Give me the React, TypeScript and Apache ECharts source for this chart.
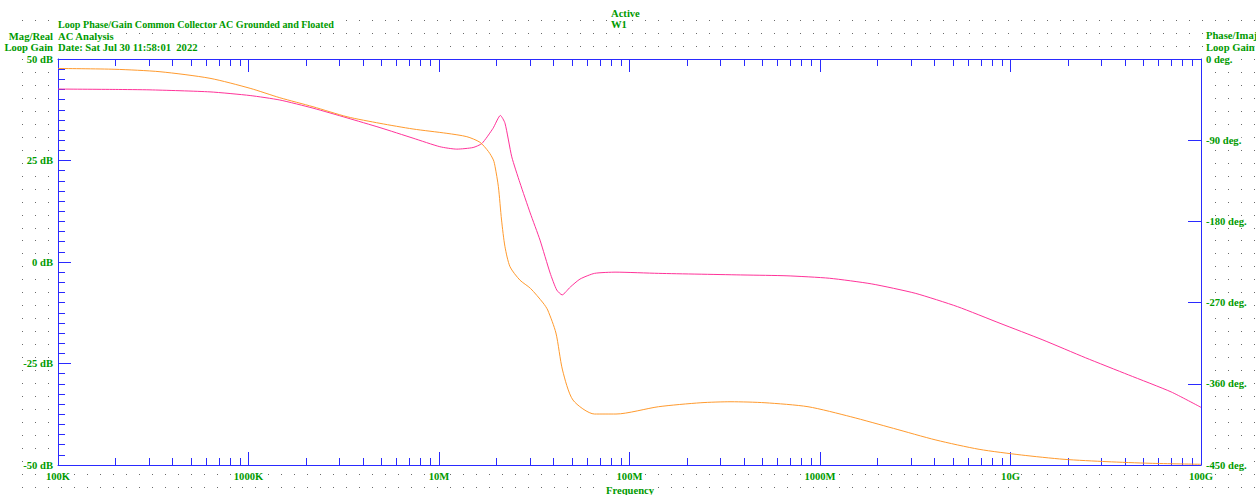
import React, { useEffect, useRef } from "react";
import * as echarts from "echarts";

// ---- data ----
const freqTickLabels = ["100K", "1000K", "10M", "100M", "1000M", "10G", "100G"];
const gainTickLabels = ["-50 dB", "-25 dB", "0 dB", "25 dB", "50 dB"];
const phaseTickLabels = ["-450 deg.", "-360 deg.", "-270 deg.", "-180 deg.", "-90 deg.", "0 deg."];
const minorMultipliers = [2, 3, 4, 5, 6, 7, 8, 9];

const gainFreq = [
  1.0e5, 2.0e5, 3.04e5, 6.28e5, 1.02e6, 1.46e6, 2.18e6, 3.29e6, 4.9e6, 7.31e6,
  1.01e7, 1.24e7, 1.51e7, 1.68e7, 1.92e7, 2.1e7, 2.22e7, 2.41e7, 2.66e7, 3.01e7,
  3.39e7, 3.83e7, 4.15e7, 4.43e7, 4.88e7, 5.5e7, 6.55e7, 8.49e7, 1.42e8, 3.99e8,
  6.71e8, 1.12e9, 1.87e9, 3.16e9, 5.27e9, 8.81e9, 1.48e10, 2.48e10, 4.16e10, 6.97e10, 1.0e11,
];
const gainDb = [
  42.6, 42.5, 42.4, 41.9, 41.0, 39.9, 37.9, 35.5, 33.1, 30.5,
  28.4, 27.8, 28.2, 29.2, 32.9, 36.1, 34.2, 25.9, 19.5, 12.1,
  5.4, -2.7, -6.9, -8.1, -6.2, -4.2, -2.8, -2.5, -2.8, -3.2,
  -3.4, -4.0, -5.4, -7.7, -11.0, -15.1, -19.2, -23.6, -27.8, -32.0, -35.8,
];

const phaseFreq = [
  1.0e5, 1.99e5, 3.43e5, 6.28e5, 1.02e6, 1.46e6, 2.18e6, 3.29e6, 4.9e6, 7.31e6,
  1.1e7, 1.4e7, 1.64e7, 1.82e7, 1.93e7, 1.97e7, 2.05e7, 2.13e7, 2.22e7, 2.36e7,
  2.66e7, 3.02e7, 3.52e7, 3.72e7, 4.11e7, 4.45e7, 5.05e7, 6.55e7, 8.49e7, 1.42e8,
  2.37e8, 3.41e8, 5.14e8, 8.65e8, 1.45e9, 2.43e9, 4.06e9, 6.84e9, 1.14e10, 1.91e10,
  3.21e10, 5.4e10, 1.0e11,
];
const phaseDeg = [
  -10.5, -11.4, -14.1, -21.4, -32.5, -42.9, -52.9, -64.0, -71.3, -77.6,
  -82.4, -86.1, -92.3, -102.7, -111.9, -119.4, -141.5, -178.5, -208.1, -230.3,
  -245.1, -254.2, -270.4, -278.2, -303.7, -344.7, -378.0, -393.5, -393.5, -385.4,
  -381.0, -379.9, -381.0, -385.4, -396.5, -409.4, -422.3, -432.6, -438.9, -443.7,
  -446.3, -448.1, -449.2,
];

const headerTitle = "Loop Phase/Gain Common Collector AC Grounded and Floated";
const headerAnalysis = "AC Analysis";
const headerDate = "Date: Sat Jul 30 11:58:01  2022";

// ---- style ----
const GREEN = "#009a00";
const BLUE = "#2a2aff";
const PINK = "#ff3399";
const ORANGE = "#ff9a2e";
const FAMILY = "'Liberation Serif', 'Times New Roman', serif";
const fontOf = (size: number) => `bold ${size}px ${FAMILY}`;

const W = 1256;
const H = 495;
const PL = 58, PT = 59, PR = 1201, PB = 465;

function buildDots() {
  const children: any[] = [];
  const step = 12.97;
  for (let i = 0; ; i++) {
    const x = Math.round(22 + i * step);
    if (x >= W) break;
    for (let j = 0; ; j++) {
      const y = Math.round(20 + j * step);
      if (y >= H) break;
      if (x >= PL - 1 && x <= PR + 1 && y >= PT - 1 && y <= PB + 1) continue;
      children.push({
        type: "rect",
        shape: { x, y, width: 1, height: 1 },
        style: { fill: "#6a6a6a" },
        silent: true,
      });
    }
  }
  return { type: "group", z: -10, silent: true, children };
}

function txt(text: string, x: number, y: number, align: string = "left", size: number = 10.6) {
  return {
    type: "text",
    x,
    y,
    z: 20,
    silent: true,
    style: {
      text,
      fill: GREEN,
      font: fontOf(size),
      align,
      verticalAlign: "middle",
      backgroundColor: "#fff",
    },
  };
}

export default function App() {
  const ref = useRef<HTMLDivElement>(null);

  useEffect(() => {
    if (!ref.current) return;
    const chart = echarts.init(ref.current, undefined, { renderer: "svg", width: W, height: H });

    const decades = freqTickLabels.map((_, i) => 5 + i);
    const minorVals: number[] = [];
    decades.slice(0, -1).forEach((d) => minorMultipliers.forEach((m) => minorVals.push(d + Math.log10(m))));

    const labelStyle = {
      color: GREEN,
      fontFamily: FAMILY,
      fontWeight: "bold" as const,
      fontSize: 10.6,
      backgroundColor: "#fff",
    };

    const xBase = {
      type: "value",
      min: 5,
      max: 11,
      interval: 1,
      gridIndex: 0,
      splitLine: { show: false },
    };

    const option: any = {
      animation: false,
      backgroundColor: "#fff",
      grid: {
        left: PL,
        top: PT,
        right: W - PR,
        bottom: H - PB,
        show: true,
        backgroundColor: "#fff",
        borderWidth: 0,
        containLabel: false,
      },
      xAxis: [
        {
          ...xBase,
          position: "bottom",
          axisLine: { show: true, onZero: false, lineStyle: { color: BLUE, width: 1 } },
          axisTick: { show: true, inside: true, length: 13, lineStyle: { color: BLUE } },
          axisLabel: {
            ...labelStyle,
            margin: 6,
            showMinLabel: true,
            showMaxLabel: true,
            formatter: (v: number) => freqTickLabels[Math.round(v) - 5] ?? "",
          },
        },
        {
          ...xBase,
          position: "bottom",
          axisLine: { show: false, onZero: false },
          axisTick: { show: true, inside: true, length: 7, customValues: minorVals, lineStyle: { color: BLUE } },
          axisLabel: { show: false },
        },
        {
          ...xBase,
          position: "top",
          axisLine: { show: true, onZero: false, lineStyle: { color: BLUE, width: 1 } },
          axisTick: { show: true, inside: true, length: 13, lineStyle: { color: BLUE } },
          axisLabel: { show: false },
        },
        {
          ...xBase,
          position: "top",
          axisLine: { show: false, onZero: false },
          axisTick: { show: true, inside: true, length: 7, customValues: minorVals, lineStyle: { color: BLUE } },
          axisLabel: { show: false },
        },
      ],
      yAxis: [
        {
          type: "value",
          position: "left",
          min: -50,
          max: 50,
          interval: 25,
          splitLine: { show: false },
          axisLine: { show: true, onZero: false, lineStyle: { color: BLUE, width: 1 } },
          axisTick: { show: true, inside: true, length: 13, lineStyle: { color: BLUE } },
          minorTick: { show: true, splitNumber: 10, length: 7, lineStyle: { color: BLUE } },
          minorSplitLine: { show: false },
          axisLabel: {
            ...labelStyle,
            margin: 5,
            showMinLabel: true,
            showMaxLabel: true,
            formatter: (v: number) => gainTickLabels[Math.round((v + 50) / 25)] ?? "",
          },
        },
        {
          type: "value",
          position: "right",
          min: -450,
          max: 0,
          interval: 90,
          splitLine: { show: false },
          axisLine: { show: true, onZero: false, lineStyle: { color: BLUE, width: 1 } },
          axisTick: { show: true, inside: true, length: 13, lineStyle: { color: BLUE } },
          axisLabel: {
            ...labelStyle,
            margin: 5,
            showMinLabel: true,
            showMaxLabel: true,
            formatter: (v: number) => phaseTickLabels[Math.round((v + 450) / 90)] ?? "",
          },
        },
      ],
      series: [
        {
          name: "Loop Gain (dB)",
          type: "line",
          xAxisIndex: 0,
          yAxisIndex: 0,
          data: gainFreq.map((f, i) => [Math.log10(f), gainDb[i]]),
          showSymbol: false,
          smooth: 0.2,
          lineStyle: { color: PINK, width: 1 },
          itemStyle: { color: PINK },
          z: 3,
        },
        {
          name: "Loop Phase (deg)",
          type: "line",
          xAxisIndex: 0,
          yAxisIndex: 1,
          data: phaseFreq.map((f, i) => [Math.log10(f), phaseDeg[i]]),
          showSymbol: false,
          smooth: 0.25,
          lineStyle: { color: ORANGE, width: 1 },
          itemStyle: { color: ORANGE },
          z: 4,
        },
      ],
      graphic: [
        buildDots(),
        txt(headerTitle, PL, 24, "left", 10.1),
        txt("Active", 611, 13),
        txt("W1", 611, 24),
        txt("Mag/Real", 53, 36, "right"),
        txt(headerAnalysis, PL, 36),
        txt("Loop Gain", 53, 47.5, "right"),
        txt(headerDate, PL, 47.5),
        txt("Phase/Imaj", 1206, 35),
        txt("Loop Gain", 1206, 47),
        txt("Frequency", 630, 490, "center"),
      ],
    };

    chart.setOption(option);
    return () => chart.dispose();
  }, []);

  return (
    <div
      ref={ref}
      style={{ position: "absolute", left: 0, top: 0, width: W, height: H, background: "#fff" }}
    />
  );
}
